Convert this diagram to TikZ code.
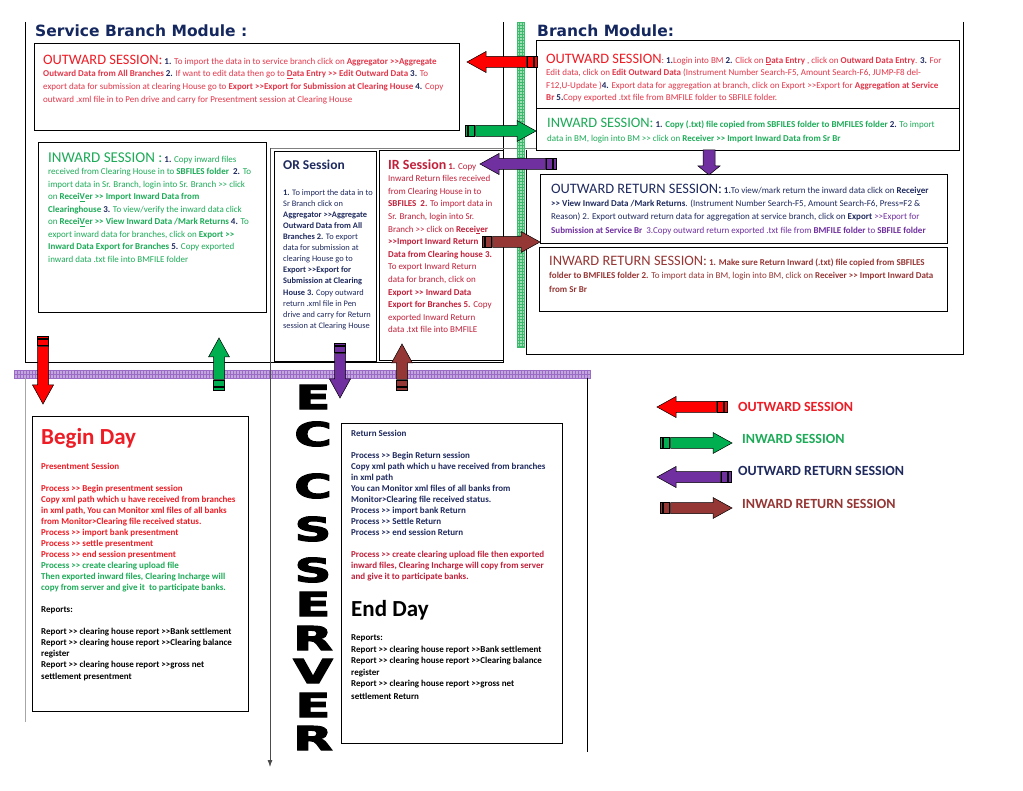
\documentclass[tikz,border=0pt]{standalone}
\usepackage{fontspec}
\setmainfont{Carlito}[Ligatures=TeXOff]
\newfontfamily\titlefont{DejaVu Sans}[Ligatures=TeXOff]
\newfontfamily\eccsfont{DejaVu Sans Bold}[FakeBold=3]
\usetikzlibrary{arrows.meta}

\definecolor{titlenavy}{HTML}{14275E}
\definecolor{outred}{HTML}{EE1C25}
\definecolor{bodyred}{HTML}{E2374A}
\definecolor{inwgreen}{HTML}{1DAB58}
\definecolor{numnavy}{HTML}{1F2A5E}
\definecolor{ornavy}{HTML}{1F2A5E}
\definecolor{orpurple}{HTML}{7030A0}
\definecolor{irbrown}{HTML}{953735}
\definecolor{ircrimson}{HTML}{C0203A}
\definecolor{arrred}{HTML}{FF0000}
\definecolor{arrgreen}{HTML}{00B050}
\definecolor{arrpurple}{HTML}{7030A0}
\definecolor{arrbrown}{HTML}{953735}
\definecolor{bandgreen}{HTML}{9BE0B3}
\definecolor{gridgreen}{HTML}{3DBA6E}
\definecolor{bandpurple}{HTML}{C3A6DE}
\definecolor{gridpurple}{HTML}{9A6CC6}

\newcommand\nb[1]{\textcolor{numnavy}{\textbf{#1}}}
\newcommand\hd{\fontsize{14.4}{14.4}\selectfont}

% striped block arrow: colour, tail x, tail y, angle, length
\newcommand{\sarr}[5]{%
  \begin{scope}[shift={(#2,#3)}, rotate=#4]
    \filldraw[arrline, fill=#1] (0,-5.5) rectangle (2.5,5.5);
    \filldraw[arrline, fill=#1] (3.5,-5.5) rectangle (9.5,5.5);
    \filldraw[arrline, fill=#1] (10.5,-5.5) -- ({#5-19},-5.5) -- ({#5-19},-10.5)
      -- (#5,0) -- ({#5-19},10.5) -- ({#5-19},5.5) -- (10.5,5.5) -- cycle;
  \end{scope}}

\tikzset{
  box/.style={draw=black, line width=1pt, anchor=north west, inner sep=0pt},
  txt/.style={anchor=north west, align=left, inner sep=0pt},
  frameline/.style={draw=black, line width=0.9pt},
  arrline/.style={draw=black, line width=0.5pt},
  eccs/.style={font=\eccsfont\fontsize{33}{33}\selectfont, inner sep=0pt},
  legend/.style={anchor=base west, inner sep=0pt, font=\bfseries\fontsize{14}{14}\selectfont},
}

\begin{document}
\begin{tikzpicture}[x=1pt, y=-1pt]
    \useasboundingbox (0,0) rectangle (1023,791);
    \fill[white] (0,0) rectangle (1023,791);

    % --- Module frames ---
    \draw[frameline] (25,22) -- (25,362) -- (503,362) -- (503,22);
    \draw[frameline] (963,22) -- (963,354) -- (526,354) -- (526,150);
    \draw[gray, line width=0.6pt] (270,148) -- (537,148);

    % --- Grid bands ---
    \fill[bandgreen] (517,22) rectangle (524,347);
    \foreach \yy in {22,25,...,346}
        \draw[gridgreen, line width=0.3pt] (517,\yy) -- (524,\yy);
    \draw[gridgreen, line width=0.3pt] (517,22) rectangle (524,347)
        (519.5,22) -- (519.5,347) (521.8,22) -- (521.8,347);

    \fill[bandpurple] (14,370) rectangle (590,378);
    \foreach \xx in {14,17,...,590}
        \draw[gridpurple, line width=0.3pt] (\xx,370) -- (\xx,378);
    \draw[gridpurple, line width=0.3pt] (14,370) rectangle (590,378) (14,374) -- (590,374);

    % --- Server frame ---
    \draw[gray!70, line width=0.6pt] (25,378) -- (25,722);
    \draw[black, line width=0.8pt] (587,378) -- (587,752);
    \draw[gray!60!black, line width=0.8pt, -{Latex[length=7pt,width=5pt]}] (270,148) -- (270,767);

    % --- Titles ---
    \node[anchor=base west, inner sep=0pt, text=titlenavy, font=\titlefont\bfseries\fontsize{15.5}{15.5}\selectfont] (sbtitle) at (35,37) {Service Branch Module :};
    \node[anchor=base west, inner sep=0pt, text=titlenavy, font=\titlefont\bfseries\fontsize{15.5}{15.5}\selectfont] (brtitle) at (537,37) {Branch Module:};

    % --- Boxes ---
    \node[box, minimum width=425pt, minimum height=87pt] (sbout) at (34,43) {};
    \node[box, minimum width=423pt, minimum height=68pt] (brout) at (536,40) {};
    \node[box, minimum width=423pt, minimum height=42pt] (brinw) at (536,108) {};
    \node[box, minimum width=407pt, minimum height=69pt] (brorr) at (540,174) {};
    \node[box, minimum width=408pt, minimum height=64pt] (brirr) at (539,247) {};
    \node[box, minimum width=228pt, minimum height=170pt] (sbinw) at (38,142) {};
    \node[box, minimum width=102pt, minimum height=210pt] (orbox) at (274,151) {};
    \node[box, minimum width=124pt, minimum height=210pt] (irbox) at (379,150) {};
    \node[box, minimum width=216pt, minimum height=295pt] (beginbox) at (32,416) {};
    \node[box, minimum width=221pt, minimum height=320pt] (returnbox) at (341,423) {};

    % --- Service branch texts ---
    \node[txt, text=bodyred, font=\fontsize{9}{12.7}\selectfont] (sbouttxt) at (43,54.6) {%
        {\hd\color{outred}OUTWARD SESSION:} \nb{1.} To import the data in to service branch click on \textbf{Aggregator >>Aggregate}\\
        \textbf{Outward Data from All Branches} \nb{2.} If want to edit data then go to \textbf{\underline{D}ata Entry >> Edit Outward Data} \nb{3.} To\\
        export data for submission at clearing House go to \textbf{Export >>Export for Submission at Clearing House} \nb{4.} Copy\\
        outward .xml file in to Pen drive and carry for Presentment session at Clearing House};

    \node[txt, text=inwgreen, font=\fontsize{9}{12.5}\selectfont] (sbinwtxt) at (48,152.3) {%
        {\fontsize{15}{15}\selectfont INWARD SESSION :} \nb{1.} Copy inward files\\
        received from Clearing House in to \textbf{SBFILES folder}\ \ \nb{2.} To\\
        import data in Sr. Branch, login into Sr. Branch >> click\\
        on \textbf{Recei\underline{V}er >> Import Inward Data from}\\
        \textbf{Clearinghouse} \nb{3.} To view/verify the inward data click\\
        on \textbf{Recei\underline{V}er >> View Inward Data /Mark Returns} \nb{4.} To\\
        export inward data for branches, click on \textbf{Export >>}\\
        \textbf{Inward Data Export for Branches} \nb{5.} Copy exported\\
        inward data .txt file into BMFILE folder};

    \node[anchor=base west, inner sep=0pt, text=ornavy, font=\bfseries\fontsize{13.5}{13.5}\selectfont] (ortitle) at (283,170) {OR Session};
    \node[txt, text=ornavy, font=\fontsize{8.4}{11.1}\selectfont] (ortxt) at (283,189.1) {%
        \textbf{1.} To import the data in to\\
        Sr Branch click on\\
        \textbf{Aggregator >>Aggregate}\\
        \textbf{Outward Data from All}\\
        \textbf{Branches 2.} To export\\
        data for submission at\\
        clearing House go to\\
        \textbf{Export >>Export for}\\
        \textbf{Submission at Clearing}\\
        \textbf{House 3.} Copy outward\\
        return .xml file in Pen\\
        drive and carry for Return\\
        session at Clearing House};

    \node[txt, text=ircrimson, font=\fontsize{9}{12.6}\selectfont] (irtxt) at (388,159) {%
        {\fontsize{14}{14}\selectfont\bfseries IR Session} \textbf{1.} Copy\\
        Inward Return files received\\
        from Clearing House in to\\
        \textbf{SBFILES}\ \ \textbf{2.} To import data in\\
        Sr. Branch, login into Sr.\\
        Branch >> click on \textbf{Recei\underline{v}er}\\
        \textbf{>>Import Inward Return}\\
        \textbf{Data from Clearing house 3.}\\
        To export Inward Return\\
        data for branch, click on\\
        \textbf{Export >> Inward Data}\\
        \textbf{Export for Branches 5.} Copy\\
        exported Inward Return\\
        data .txt file into BMFILE};

    % --- Branch texts ---
    \node[txt, text=bodyred, font=\fontsize{9}{12.6}\selectfont] (brouttxt) at (546,53.6) {%
        {\hd\color{outred}OUTWARD SESSION}: \nb{1.}Login into BM \nb{2.} Click on \textbf{\underline{D}ata Entry} , click on \textbf{Outward Data Entry}. \nb{3.} For\\
        Edit data, click on \textbf{Edit Outward Data} (Instrument Number Search-F5, Amount Search-F6, JUMP-F8 del-\\
        F12,U-Update )\nb{4.} Export data for aggregation at branch, click on Export >>Export for \textbf{Aggregation at Service}\\
        \textbf{Br} \nb{5.}Copy exported .txt file from BMFILE folder to SBFILE folder.};

    \node[txt, text=inwgreen, font=\fontsize{9}{14}\selectfont] (brinwtxt) at (547,117.6) {%
        {\hd INWARD SESSION:} \nb{1.} \textbf{Copy (.txt) file copied from SBFILES folder to BMFILES folder} \nb{2.} To import\\
        data in BM, login into BM >> click on \textbf{Receiver >> Import Inward Data from Sr Br}};

    \node[txt, text=ornavy, font=\fontsize{9}{13.3}\selectfont] (brorrtxt) at (551,183.6) {%
        {\hd OUTWARD RETURN SESSION:} \textbf{1.}To view/mark return the inward data click on \textbf{Recei\underline{v}er}\\
        \textbf{>> View Inward Data /Mark Returns}. (Instrument Number Search-F5, Amount Search-F6, Press=F2 \&\\
        Reason) 2. Export outward return data for aggregation at service branch, click on \textbf{Export} \textcolor{orpurple}{>>Export for}\\
        \textcolor{orpurple}{\textbf{Submission at Service Br}\ \ 3.Copy outward return exported .txt file from \textbf{BMFILE folder} to \textbf{SBFILE folder}}};

    \node[txt, text=irbrown, font=\fontsize{9}{13.5}\selectfont] (brirrtxt) at (549,255.6) {%
        {\hd INWARD RETURN SESSION:} \textbf{1. Make sure Return Inward (.txt) file copied from SBFILES}\\
        \textbf{folder to BMFILES folder 2.} To import data in BM, login into BM, click on \textbf{Receiver >> Import Inward Data}\\
        \textbf{from Sr Br}};

    % --- Server texts ---
    \node[anchor=base west, inner sep=0pt, text=outred, font=\bfseries\fontsize{23}{23}\selectfont] (begintitle) at (41,445) {Begin Day};
    \node[txt, text=outred, font=\bfseries\fontsize{9}{11}\selectfont] (begintxt) at (41,462.5) {%
        Presentment Session\\[11pt]
        Process >> Begin presentment session\\
        Copy xml path which u have received from branches\\
        in xml path, You can Monitor xml files of all banks\\
        from Monitor>Clearing file received status.\\
        Process >> import bank presentment\\
        Process >> settle presentment\\
        Process >> end session presentment\\
        \textcolor{inwgreen}{Process >> create clearing upload file}\\
        \textcolor{inwgreen}{Then exported inward files, Clearing Incharge will}\\
        \textcolor{inwgreen}{copy from server and give it\ \ to participate banks.}\\[11pt]
        \textcolor{black}{Reports:}\\[11pt]
        \textcolor{black}{Report >> clearing house report >>Bank settlement}\\
        \textcolor{black}{Report >> clearing house report >>Clearing balance}\\
        \textcolor{black}{register}\\
        \textcolor{black}{Report >> clearing house report >>gross net}\\[1.5pt]
        \textcolor{black}{settlement presentment}};

    \node[txt, text=ornavy, font=\bfseries\fontsize{9}{11}\selectfont] (returntxt) at (351,429.5) {%
        Return Session\\[11pt]
        Process >> Begin Return session\\
        Copy xml path which u have received from branches\\
        in xml path\\
        You can Monitor xml files of all banks from\\
        Monitor>Clearing file received status.\\
        Process >> import bank Return\\
        Process >> Settle Return\\
        Process >> end session Return\\[11pt]
        \textcolor{ircrimson}{Process >> create clearing upload file then exported}\\
        \textcolor{ircrimson}{inward files, Clearing Incharge will copy from server}\\
        \textcolor{ircrimson}{and give it to participate banks.}};
    \node[anchor=base west, inner sep=0pt, font=\bfseries\fontsize{23}{23}\selectfont] (endtitle) at (351,616) {End Day};
    \node[txt, font=\bfseries\fontsize{9}{11.5}\selectfont] (endtxt) at (351,634.5) {%
        Reports:\\
        Report >> clearing house report >>Bank settlement\\
        Report >> clearing house report >>Clearing balance\\
        register\\
        Report >> clearing house report >>gross net\\[1.5pt]
        settlement Return};

    % --- ECCS SERVER letters ---
    \foreach \ch/\yy [count=\i] in {E/397, C/434, C/486, S/529, S/570, E/604, R/638, V/671, E/705, R/738}
        \node[eccs] (eccs\i) at (313,\yy) {\scalebox{1.55}[1]{\ch}};

    % --- Block arrows ---
    \sarr{arrred}{537}{62}{180}{70}
    \sarr{arrgreen}{465}{131}{0}{71}
    \sarr{arrpurple}{556}{164}{180}{76}
    \sarr{arrbrown}{482}{242}{0}{58}
    \filldraw[arrline, fill=arrpurple] (703,150) -- (715,150) -- (715,166) -- (720,166)
        -- (709,175) -- (698,166) -- (703,166) -- cycle;
    \sarr{arrred}{43}{336}{-90}{68}
    \sarr{arrgreen}{219}{390}{90}{52}
    \sarr{arrpurple}{340}{343}{-90}{55}
    \sarr{arrbrown}{402}{390}{90}{46}

    % --- Legend ---
    \sarr{arrred}{727}{407}{180}{70}
    \sarr{arrgreen}{660}{443}{0}{72}
    \sarr{arrpurple}{731}{477}{180}{74}
    \sarr{arrbrown}{660}{508}{0}{72}
    \node[legend, text=outred] (legout) at (738,411.5) {OUTWARD SESSION};
    \node[legend, text=inwgreen] (leginw) at (742,443) {INWARD SESSION};
    \node[legend, text=ornavy] (legorr) at (738,475.5) {OUTWARD RETURN SESSION};
    \node[legend, text=irbrown] (legirr) at (742,508.5) {INWARD RETURN SESSION};
\end{tikzpicture}
\end{document}
